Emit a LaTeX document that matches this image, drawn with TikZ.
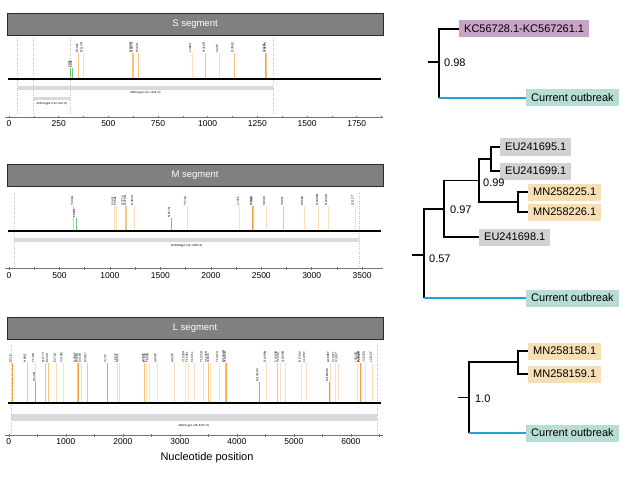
\documentclass[tikz,border=0pt]{standalone}
\usepackage{fontspec}
\setmainfont{Liberation Sans}
\usetikzlibrary{positioning}
\definecolor{bar fill}{RGB}{128,128,128}
\definecolor{bar edge}{RGB}{28,48,60}
\definecolor{gene fill}{RGB}{217,217,217}
\definecolor{pale colour}{RGB}{252,222,184}
\definecolor{warm colour}{RGB}{249,196,128}
\definecolor{deep colour}{RGB}{245,163,58}
\definecolor{silent colour}{RGB}{118,194,118}
\definecolor{kc colour}{RGB}{201,163,198}
\definecolor{eu colour}{RGB}{210,210,210}
\definecolor{mn colour}{RGB}{246,223,181}
\definecolor{now colour}{RGB}{183,221,212}
\definecolor{outbreak blue}{RGB}{36,160,220}
\tikzset{
    % Segment panels
    title bar/.style={
        draw=bar edge, fill=bar fill, line width=0.9pt, text=white,
        minimum width=376pt, minimum height=22pt,
        font=\fontsize{9.5}{10}\selectfont},
    backbone/.style={line width=2pt, black},
    guide/.style={draw=black!25, dotted, line width=0.5pt},
    gene bar/.style={fill=gene fill},
    gene label/.style={font=\fontsize{2.8}{3}\selectfont, inner sep=0pt},
    axis line/.style={draw=black!55, line width=0.6pt},
    tick label/.style={font=\fontsize{8.5}{9}\selectfont, inner sep=0pt},
    mut label/.style={
        font=\fontsize{3}{3}\selectfont, rotate=90,
        anchor=south west, inner sep=0.4pt},
    % Mutation lines
    mut/.style={line width=1pt},
    pale/.style={mut, draw=pale colour},
    warm/.style={mut, draw=warm colour},
    deep/.style={mut, draw=deep colour},
    silent/.style={mut, draw=silent colour},
    % Trees
    leaf/.style={
        anchor=west, minimum height=17pt, inner xsep=5pt, inner ysep=2pt,
        font=\fontsize{11}{13}\selectfont},
    branch/.style={line width=1.2pt, black},
    new branch/.style={line width=1.2pt, draw=outbreak blue},
    support/.style={anchor=west, inner sep=1pt, font=\fontsize{11}{13}\selectfont},
}

\begin{document}
\begin{tikzpicture}[x=1pt, y=-1pt, every node/.style={align=center}]
    \useasboundingbox (0,0) rectangle (629,500);

    % S segment
    \node [title bar] (s title) at (195,24) {S segment};
    \begin{scope}[shift={(9,0)}, x=0.1987pt]
        \foreach \p in {43,122,310,1329}
            \draw [guide] (\p,38) -- (\p,115);
        \draw [backbone] (-5,79) -- (1872,79);
        \foreach \p/\t/\c/\l in {
            312/68/silent/L90L, 322/68/silent/L93L,
            352/53/warm/E100L, 377/53/pale/Q113R,
            620/53/warm/G186R, 628/53/warm/D197G, 654/53/warm/P207S,
            921/53/pale/L296S, 991/53/warm/H318R, 1057/53/pale/I344T,
            1137/53/warm/Q356E, 1293/53/deep/Y418L, 1298/53/warm/N419K}
            \draw [\c] (\p,78) -- (\p,\t) node [mut label] {\l};
        \fill [gene bar] (43,86) rectangle (1329,90);
        \node [gene label] (s gene1) at (686,93) {ANDVsgp1 (43--1329 nt)};
        \fill [gene bar] (122,97) rectangle (310,100);
        \node [gene label] (s gene2) at (216,103.5) {ANDVsgp2 (122--310 nt)};
        \draw [axis line] (-20,117) -- (1882,117);
        \foreach \v in {0,125,...,1875}
            \draw [axis line] (\v,116) -- (\v,118.5);
        \foreach \v in {0,250,...,1750}
            \node [tick label] at (\v,124) {\v};
    \end{scope}

    % M segment
    \node [title bar] (m title) at (195,175) {M segment};
    \begin{scope}[shift={(9,0)}, x=0.1009pt]
        \foreach \p in {52,3468}
            \draw [guide] (\p,193) -- (\p,268);
        \draw [backbone] (-10,231) -- (3690,231);
        \foreach \p/\t/\c/\l in {
            644/206/warm/T202A, 664/218/silent/L204L,
            1045/206/pale/V343I, 1070/206/pale/F350L,
            1150/206/warm/Q371K, 1169/206/warm/G374N, 1239/206/pale/G393S,
            1606/218/silent/N517N, 1764/206/pale/T571A,
            2289/206/pale/L747F, 2418/206/deep/T789S, 2423/206/warm/I791V,
            2547/206/pale/S832V, 2725/206/warm/V890I, 2924/206/pale/K956E,
            3072/206/pale/N1005D, 3162/206/pale/N1032S, 3429/206/pale/Q1127*}
            \draw [\c] (\p,230) -- (\p,\t) node [mut label] {\l};
        \fill [gene bar] (52,238) rectangle (3468,242);
        \node [gene label] (m gene) at (1760,245.5) {ANDVMgp1 (52--3468 nt)};
        \draw [axis line] (-40,268) -- (3707,268);
        \foreach \v in {0,250,...,3500}
            \draw [axis line] (\v,267) -- (\v,269.5);
        \foreach \v in {0,500,...,3500}
            \node [tick label] at (\v,276) {\v};
    \end{scope}

    % L segment
    \node [title bar] (l title) at (195,328) {L segment};
    \begin{scope}[shift={(8.8,0)}, x=0.057pt]
        \foreach \p in {38,6457}
            \draw [guide] (\p,345) -- (\p,435);
        \draw [backbone] (-10,403) -- (6530,403);
        \foreach \p/\t/\c/\l in {
            61/363/deep/E11K, 325/363/warm/H98Q, 460/363/pale/T149V,
            477/382/silent/K147R, 647/363/warm/Q177V, 705/363/warm/E221V,
            840/363/pale/E271G, 956/363/pale/V313M, 1202/363/warm/Q388T,
            1226/363/deep/E396G, 1279/363/pale/S418V, 1377/363/warm/M451T,
            1728/363/deep/I571T, 1904/363/pale/L617F, 1939/363/pale/S634I,
            2389/363/warm/A784T, 2419/363/pale/E793K, 2465/363/pale/T809A,
            2605/363/pale/A856T, 2904/363/pale/A955T, 3097/363/pale/Y1020H,
            3156/363/pale/F1040L, 3249/363/pale/F1071L, 3412/363/pale/T1125D,
            3495/363/warm/Y1152H, 3530/363/pale/I1164I, 3688/363/pale/T1217A,
            3798/363/warm/M1253R, 3823/363/deep/N1262D,
            4395/382/silent/M1452M, 4525/363/pale/D1496N,
            4717/363/warm/C1560R, 4758/363/pale/Y1573I, 4851/363/pale/Q1605R,
            5139/363/pale/R1701Y, 5216/363/pale/L1726F,
            5618/382/silent/M1860M, 5635/363/pale/A1866T,
            5728/363/pale/F1897L, 5781/363/pale/I1915T, 6121/363/pale/*2028G,
            6161/363/deep/D2041N, 6179/363/pale/P2047L, 6261/363/pale/Y2075S,
            6384/363/pale/L2116F}
            \draw [\c] (\p,402) -- (\p,\t) node [mut label] {\l};
        \fill [gene bar] (38,414) rectangle (6457,421);
        \node [gene label] (l gene) at (3247,425.5) {ANDVLgp1 (38--6457 nt)};
        \draw [axis line] (-67,435) -- (6565,435);
        \foreach \v in {0,500,...,6500}
            \draw [axis line] (\v,434) -- (\v,436.5);
        \foreach \v in {0,1000,...,6000}
            \node [tick label] at (\v,442) {\v};
    \end{scope}
    \node [font=\fontsize{11}{13}\selectfont] (x title) at (207,458)
        {Nucleotide position};

    % S tree
    \coordinate (s root) at (428,62);
    \coordinate (s n0) at (439,62);
    \node [leaf, fill=kc colour] (kc) at (459,29) {KC56728.1-KC567261.1};
    \node [leaf, fill=now colour] (s now) at (526,98) {Current outbreak};
    \draw [branch] (s root) -- (s n0);
    \draw [branch] (s n0) |- (kc.west);
    \draw [branch] (s n0) -- (s n0 |- s now.west);
    \draw [new branch] (s n0 |- s now.west) -- (s now.west);
    \node [support] (s sup) at (443,63) {0.98};

    % M tree
    \coordinate (m root) at (412,255);
    \coordinate (m n0) at (424,255);
    \coordinate (m n1) at (444,209);
    \coordinate (m n2) at (479,180.5);
    \coordinate (m n3) at (491,159);
    \coordinate (m n4) at (518,202);
    \node [leaf, fill=eu colour] (eu695) at (500,147) {EU241695.1};
    \node [leaf, fill=eu colour] (eu699) at (500,171) {EU241699.1};
    \node [leaf, fill=mn colour] (mn225) at (528,192) {MN258225.1};
    \node [leaf, fill=mn colour] (mn226) at (528,212) {MN258226.1};
    \node [leaf, fill=eu colour] (eu698) at (479,237) {EU241698.1};
    \node [leaf, fill=now colour] (m now) at (526,298) {Current outbreak};
    \draw [branch] (m root) -- (m n0);
    \draw [branch] (m n0) |- (m n1);
    \draw [branch] (m n1) |- (m n2);
    \draw [branch] (m n1) |- (eu698.west);
    \draw [branch] (m n2) |- (m n3);
    \draw [branch] (m n2) |- (m n4);
    \draw [branch] (m n3) |- (eu695.west);
    \draw [branch] (m n3) |- (eu699.west);
    \draw [branch] (m n4) |- (mn225.west);
    \draw [branch] (m n4) |- (mn226.west);
    \draw [branch] (m n0) -- (m n0 |- m now.west);
    \draw [new branch] (m n0 |- m now.west) -- (m now.west);
    \node [support] (m sup1) at (482,183) {0.99};
    \node [support] (m sup2) at (449,210) {0.97};
    \node [support] (m sup3) at (428,259) {0.57};

    % L tree
    \coordinate (l root) at (458,397.5);
    \coordinate (l n0) at (469,397.5);
    \coordinate (l n1) at (518,362);
    \node [leaf, fill=mn colour] (mn158) at (528,351) {MN258158.1};
    \node [leaf, fill=mn colour] (mn159) at (528,374) {MN258159.1};
    \node [leaf, fill=now colour] (l now) at (526,433) {Current outbreak};
    \draw [branch] (l root) -- (l n0);
    \draw [branch] (l n0) |- (l n1);
    \draw [branch] (l n1) |- (mn158.west);
    \draw [branch] (l n1) |- (mn159.west);
    \draw [branch] (l n0) -- (l n0 |- l now.west);
    \draw [new branch] (l n0 |- l now.west) -- (l now.west);
    \node [support] (l sup) at (474,399) {1.0};
\end{tikzpicture}
\end{document}
